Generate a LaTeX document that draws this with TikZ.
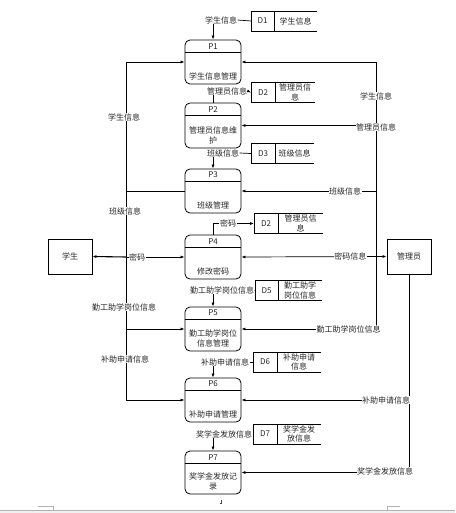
\documentclass[tikz,border=0pt]{standalone}
\usepackage{fontspec}
\newfontfamily\cjk{Noto Sans CJK SC}
\usetikzlibrary{arrows.meta}
\newcommand{\mkproc}[5]{%
  \node[proc, minimum height=#3pt] (#1) at (213,#2) {};
  \draw[line width=0.8pt] ([yshift=-13pt]#1.north west) -- ([yshift=-13pt]#1.north east);
  \node[lbl] (#1h) at ([yshift=-6.5pt]#1.north) {#4};
  \node[lbl, anchor=south, align=center] (#1t) at ([yshift=4pt]#1.south) {#5};
}
\newcommand{\mkstore}[7]{%
  \draw[line width=0.8pt] (#4,#5-10) -- (#2,#5-10) -- (#2,#5+10) -- (#4,#5+10);
  \draw[line width=0.8pt] (#3,#5-10) -- (#3,#5+10);
  \coordinate (#1) at (#2,#5);
  \node[lbl] (#1i) at ({(#2+#3)/2},#5) {#6};
  \node[lbl, align=center] (#1n) at ({(#3+#4)/2},#5) {#7};
}
\begin{document}
\begin{tikzpicture}[x=1pt,y=-1pt,
  lbl/.style={font=\cjk\fontsize{8}{9.5}\selectfont, inner sep=0.5pt, text=black!85},
  wlbl/.style={lbl, fill=white},
  proc/.style={draw, rounded corners=5pt, line width=0.8pt, minimum width=56pt, inner sep=0pt},
  ent/.style={draw, line width=0.8pt, minimum width=44pt, minimum height=35pt, inner sep=0pt, font=\cjk\fontsize{8}{9.5}\selectfont, text=black!85},
  conn/.style={line width=0.7pt},
  flow/.style={conn, -{Latex[length=4pt,width=3pt]}},
  bflow/.style={conn, {Latex[length=4pt,width=3pt]}-{Latex[length=4pt,width=3pt]}}
]
\useasboundingbox (0,0) rectangle (455,513);

% processes
\mkproc{p1}{62}{44}{P1}{学生信息管理}
\mkproc{p2}{125.5}{45}{P2}{管理员信息维\\护}
\mkproc{p3}{191}{44}{P3}{班级管理}
\mkproc{p4}{257}{44}{P4}{修改密码}
\mkproc{p5}{329}{44}{P5}{勤工助学岗位\\信息管理}
\mkproc{p6}{400}{44}{P6}{补助申请管理}
\mkproc{p7}{472.5}{43}{P7}{奖学金发放记\\录}

% data stores
\mkstore{d1}{251}{274}{317}{21}{D1}{学生信息}
\mkstore{d2a}{251}{275}{315}{92.5}{D2}{管理员信\\息}
\mkstore{d3}{251}{275}{314}{153.5}{D3}{班级信息}
\mkstore{d2b}{254}{278}{323}{223.5}{D2}{管理员信\\息}
\mkstore{d5}{255}{278}{322}{290.5}{D5}{勤工助学\\岗位信息}
\mkstore{d6}{253}{277}{321}{362}{D6}{补助申请\\信息}
\mkstore{d7}{253}{277}{321}{434}{D7}{奖学金发\\放信息}

% entities
\node[ent] (stu) at (70,256.5) {学生};
\node[ent] (adm) at (409,256.5) {管理员};

% store flows
\node[lbl] (l1) at (221,20) {学生信息};
\draw[conn] (l1.east) -- (d1);
\draw[flow] (l1.south -| p1.north) -- (p1.north);
\node[lbl] (l2) at (227,91) {管理员信息};
\draw[flow] (l2.east) -- (d2a);
\draw[conn] (p2.north) -- (p2.north |- l2.south);
\node[lbl] (l3) at (223,153) {班级信息};
\draw[conn] (l3.east) -- (d3);
\draw[flow] (l3.south -| p3.north) -- (p3.north);
\node[lbl] (l4) at (228,223.5) {密码};
\draw[conn] (p4.north) |- (l4.west);
\draw[flow] (l4.east) -- (d2b);
\node[lbl] (l5) at (222,290) {勤工助学岗位信息};
\draw[conn] (l5.east) -- (d5);
\draw[flow] (l5.south -| p5.north) -- (p5.north);
\node[lbl] (l6) at (225,362) {补助申请信息};
\draw[conn] (l6.east) -- (d6);
\draw[flow] (l6.south -| p6.north) -- (p6.north);
\node[lbl] (l7) at (224,434) {奖学金发放信息};
\draw[conn] (l7.east) -- (d7);
\draw[flow] (l7.south -| p7.north) -- (p7.north);

% left bus
\coordinate (L1) at (126,62);
\coordinate (L3) at (126,191);
\coordinate (L4) at (126,257);
\coordinate (L5) at (126,329);
\coordinate (L6) at (126,400);
\draw[conn] (L1) -- (L6);
\draw[flow] (L1) -- (p1.west);
\draw[conn] (L3) -- (p3.west);
\draw[flow, line width=1.1pt] (L4) -- (stu.east);
\draw[flow] (L4) -- node[wlbl, pos=0.19] (lm) {密码} (p4.west);
\draw[flow] (L5) -- (p5.west);
\draw[flow] (L6) -- (p6.west);
\node[wlbl] (ll1) at (124,117) {学生信息};
\node[wlbl] (ll2) at (125,211) {班级信息};
\node[wlbl] (ll3) at (124,307) {勤工助学岗位信息};
\node[wlbl] (ll4) at (125,359) {补助申请信息};

% right bus
\coordinate (R1) at (376,62);
\coordinate (R2) at (376,125.5);
\coordinate (R3) at (376,191);
\coordinate (R5) at (376,329);
\coordinate (R6) at (409,400);
\coordinate (R7) at (409,472.5);
\draw[conn] (R1) -- (R5);
\draw[flow] (R1) -- (p1.east);
\draw[flow] (R2) -- (p2.east);
\draw[flow] (R3) -- (p3.east);
\draw[flow] (R5) -- (p5.east);
\draw[bflow] (p4.east) -- node[wlbl, pos=0.75] (lr4) {密码信息} (adm.west);
\draw[conn] (adm.south) -- (R7);
\draw[flow] (R6) -- (p6.east);
\draw[flow] (R7) -- (p7.east);
\node[wlbl] (lr1) at (376,96) {学生信息};
\node[wlbl] (lr2) at (376,127) {管理员信息};
\node[wlbl] (lr3) at (345,191) {班级信息};
\node[wlbl] (lr5) at (348.5,329) {勤工助学岗位信息};
\node[wlbl] (lr6) at (386,400) {补助申请信息};
\node[wlbl] (lr7) at (385,471) {奖学金发放信息};

% page artefacts
\fill[gray!12] (0,511) rectangle (455,513);
\draw[gray!60, line width=0.8pt] (0,510.5) -- (455,510.5);
\draw[gray!60, line width=0.5pt] (38,506) -- (53,506) -- (53,510);
\draw[gray!60, line width=0.5pt] (400,506) -- (387,506) -- (387,510);
\draw[black!70, line width=0.4pt] (221,500) -- (221,503) -- (219.5,503);
\end{tikzpicture}
\end{document}
